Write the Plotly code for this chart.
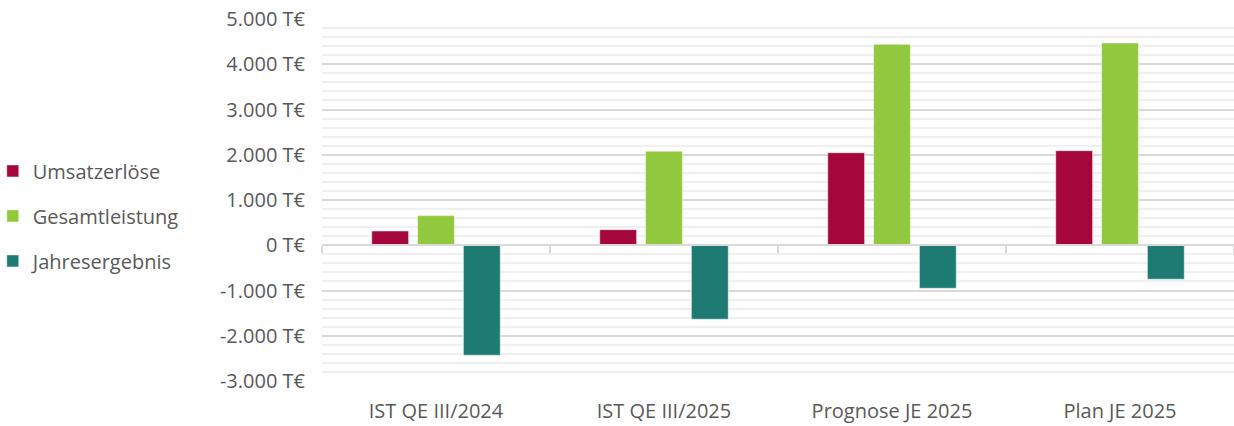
import plotly.graph_objects as go

categories = ["IST QE III/2024", "IST QE III/2025", "Prognose JE 2025", "Plan JE 2025"]
umsatzerloese = [315, 345, 2045, 2090]
gesamtleistung = [655, 2080, 4440, 4470]
jahresergebnis = [-2430, -1635, -950, -750]
series_names = ["Umsatzerlöse", "Gesamtleistung", "Jahresergebnis"]
series_colors = ["#A5073D", "#92C83E", "#1E7B73"]
y_ticks = [-3000, -2000, -1000, 0, 1000, 2000, 3000, 4000, 5000]

y_min, y_max = y_ticks[0], y_ticks[-1]
tick_text = [f"{v:,}".replace(",", ".") + " T€" for v in y_ticks]

FONT = "Open Sans"
GREY = "#595959"
FS = 20

fig = go.Figure()
for i, (name, vals, col) in enumerate(zip(series_names, [umsatzerloese, gesamtleistung, jahresergebnis], series_colors)):
    fig.add_trace(go.Bar(
        x=categories, y=vals, name=name, legendgroup=name,
        marker=dict(color=col, line=dict(color="rgba(255,255,255,0.6)", width=0.8)),
    ))

# invisible helper trace for the category axis drawn at zero
fig.add_trace(go.Scatter(
    x=categories, y=[0] * len(categories), xaxis="x2", yaxis="y",
    mode="markers", marker=dict(opacity=0), showlegend=False, hoverinfo="skip",
))

fig.update_layout(
    width=1234, height=426,
    margin=dict(l=322, r=0, t=19, b=45, autoexpand=False),
    paper_bgcolor="white", plot_bgcolor="white",
    barmode="group", bargap=0.397, bargroupgap=0.196,
    font=dict(family=FONT, size=FS, color=GREY),
    showlegend=True,
    legend=dict(
        x=-0.361, y=0.456, xanchor="left", yanchor="middle",
        traceorder="grouped", tracegroupgap=16,
        font=dict(family=FONT, size=FS, color=GREY),
        bgcolor="rgba(0,0,0,0)", itemwidth=30,
    ),
    xaxis=dict(
        type="category", range=[-0.5, len(categories) - 0.5],
        showgrid=False, showline=False, ticks="", zeroline=False,
        tickfont=dict(family=FONT, size=FS, color=GREY),
        ticklabelstandoff=16,
    ),
    xaxis2=dict(
        type="category", overlaying="x", anchor="free",
        position=(0 - y_min) / (y_max - y_min),
        range=[-0.5, len(categories) - 0.5],
        showgrid=False, showline=True, linecolor="#D9D9D9", linewidth=1.5,
        ticks="outside", tickson="boundaries", ticklen=7, tickwidth=1.5, tickcolor="#D9D9D9",
        showticklabels=False, zeroline=False,
    ),
    yaxis=dict(
        range=[y_min, y_max], tickvals=y_ticks, ticktext=tick_text,
        showgrid=True, gridcolor="#D9D9D9", gridwidth=1.5,
        zeroline=True, zerolinecolor="#D9D9D9", zerolinewidth=1.5,
        showline=False, ticks="",
        tickfont=dict(family=FONT, size=FS, color=GREY),
        ticklabelstandoff=16,
        minor=dict(dtick=200, showgrid=True, gridcolor="#F0F0F0", gridwidth=1.5, ticks=""),
    ),
)

fig.write_html(
    "out.html",
    config={"displayModeBar": False},
    post_script="document.body.style.margin='0';document.body.style.overflow='hidden';",
)
